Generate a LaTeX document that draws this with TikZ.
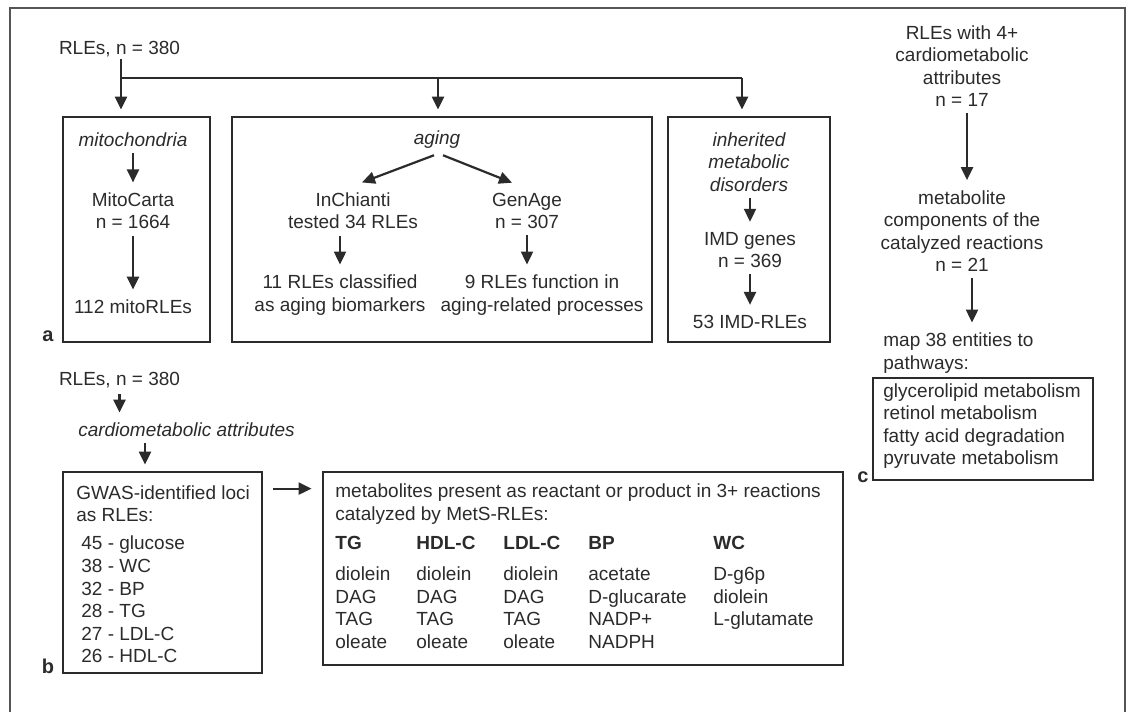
\documentclass[tikz,border=0pt]{standalone}
\usepackage{fontspec}
\setmainfont{Liberation Sans}
\usetikzlibrary{arrows.meta,calc}
\definecolor{ink}{HTML}{2B2B2B}
\definecolor{framec}{HTML}{555555}
\begin{document}
\begin{tikzpicture}[x=0.5pt,y=-0.5pt,
  every node/.style={text=ink, font=\fontsize{9.5}{11.2}\selectfont, inner sep=1pt},
  txt/.style={align=center},
  ltxt/.style={align=left},
  it/.style={font=\fontsize{9.5}{11.2}\selectfont\itshape},
  hd/.style={font=\fontsize{9.5}{11.2}\selectfont\bfseries},
  box/.style={draw=ink, line width=1.4pt, inner sep=0pt},
  arr/.style={draw=ink, line width=1.1pt, -{Triangle[width=6pt,length=6.5pt]}, shorten <=2pt, shorten >=4pt},
  ln/.style={draw=ink, line width=1.1pt},
  lab/.style={font=\fontsize{10}{12}\selectfont\bfseries}
]
\useasboundingbox (0,0) rectangle (1129,712);
\draw[draw=framec, line width=1pt] (10,712) -- (10,8) -- (1125,8) -- (1125,712);

% ---------- a ----------
\node (rleA) at (119.5,49) {RLEs, n = 380};
\coordinate (sp1) at (121,78);
\coordinate (sp2) at (438,78);
\coordinate (sp3) at (742,78);
\node[box, minimum width=73.5pt, minimum height=112.5pt] (boxM) at (136.5,229.5) {};
\node[box, minimum width=210pt, minimum height=112.5pt] (boxA) at (442,229.5) {};
\node[box, minimum width=81pt, minimum height=112.5pt] (boxI) at (749,229.5) {};
\draw[ln] (rleA.south -| sp1) -- (sp1) -- (sp3);
\draw[arr, shorten <=0pt, shorten >=3pt] (sp1) -- (sp1 |- boxM.north);
\draw[arr, shorten <=0pt, shorten >=3pt] (sp2) -- (sp2 |- boxA.north);
\draw[arr, shorten <=0pt, shorten >=3pt] (sp3) -- (sp3 |- boxI.north);

\node[it] (mito) at (133,140) {mitochondria};
\node[txt] (mitoC) at (133,211) {MitoCarta\\n = 1664};
\node (mitoR) at (133,307) {112 mitoRLEs};
\draw[arr] (mito) -- (mitoC);
\draw[arr] (mitoC) -- (mitoR);

\node[it] (aging) at (437,140) {aging};
\node[txt] (inch) at (353,211) {InChianti\\tested 34 RLEs};
\node[txt] (genage) at (527,211) {GenAge\\n = 307};
\node[txt] (inRes) at (340,295) {11 RLEs classified\\as aging biomarkers};
\node[txt] (geRes) at (542,295) {9 RLEs function in\\aging-related processes};
\draw[arr, shorten <=0pt, shorten >=0pt] ($(aging.south)+(-3,4)$) -- ($(inch.north)+(9,-8)$);
\draw[arr, shorten <=0pt, shorten >=0pt] ($(aging.south)+(6,4)$) -- ($(genage.north)+(-15,-8)$);
\draw[arr] (inch.south -| inRes) -- (inRes);
\draw[arr] (genage) -- (genage |- geRes.north);

\node[it, txt] (imdT) at (749,162) {inherited\\metabolic\\disorders};
\node[txt] (imdG) at (750,250) {IMD genes\\n = 369};
\node (imdR) at (750,322) {53 IMD-RLEs};
\draw[arr] (imdT.south -| imdG) -- (imdG);
\draw[arr] (imdG) -- (imdR);

\node[lab] (la) at (48,336) {a};

% ---------- c ----------
\node[txt] (c1) at (962,66) {RLEs with 4+\\cardiometabolic\\attributes\\n = 17};
\node[txt] (c2) at (962,231) {metabolite\\components of the\\catalyzed reactions\\n = 21};
\node[ltxt, anchor=west] (c3) at (881,353) {map 38 entities to\\pathways:};
\node[box, minimum width=110pt, minimum height=51pt] (boxP) at (983,429) {};
\node[ltxt, anchor=west] (pw) at (881,426) {glycerolipid metabolism\\retinol metabolism\\fatty acid degradation\\pyruvate metabolism};
\coordinate (cA) at ($(c1.south)+(5,0)$);
\coordinate (cB) at ($(c2.south)+(10,0)$);
\draw[arr] (cA) -- (cA |- c2.north);
\draw[arr] (cB) -- (cB |- c3.north);
\node[lab] (lc) at (863,477) {c};

% ---------- b ----------
\node (rleB) at (119.5,380) {RLEs, n = 380};
\node[it] (cardio) at (186.5,430) {cardiometabolic attributes};
\draw[arr] (rleB) -- (rleB |- cardio.north);
\node[box, minimum width=99.5pt, minimum height=100.5pt] (boxG) at (162.5,572.5) {};
\coordinate (cardioOut) at ($(cardio.south)+(-41.5,0)$);
\draw[arr, shorten >=3pt] (cardioOut) -- (cardioOut |- boxG.north);
\node[ltxt, anchor=west] (gwT) at (74,503.5) {GWAS-identified loci\\as RLEs:};
\node[ltxt, anchor=west, font=\fontsize{9.5}{11.3}\selectfont] (gwL) at (79,599.5) {45 - glucose\\38 - WC\\32 - BP\\28 - TG\\27 - LDL-C\\26 - HDL-C};
\node[lab] (lb) at (48,666) {b};

\node[box, minimum width=260pt, minimum height=96.5pt] (boxMet) at (583,568.5) {};
\coordinate (gArr) at ($(boxG.north east)+(10,18)$);
\draw[arr, shorten <=0pt, shorten >=5pt] (gArr) -- (gArr -| boxMet.west);
\node[ltxt, anchor=west] (mT) at (333,504) {metabolites present as reactant or product in 3+ reactions\\catalyzed by MetS-RLEs:};
\node[hd, anchor=base west] (hTG) at (333,549.5) {TG};
\node[hd, anchor=base west] (hHDL) at (414,549.5) {HDL-C};
\node[hd, anchor=base west] (hLDL) at (501,549.5) {LDL-C};
\node[hd, anchor=base west] (hBP) at (586,549.5) {BP};
\node[hd, anchor=base west] (hWC) at (711,549.5) {WC};
\node[ltxt, anchor=north west] (colTG) at (333,562.8) {\strut diolein\\DAG\\TAG\\oleate};
\node[ltxt, anchor=north west] (colHDL) at (414,562.8) {\strut diolein\\DAG\\TAG\\oleate};
\node[ltxt, anchor=north west] (colLDL) at (501,562.8) {\strut diolein\\DAG\\TAG\\oleate};
\node[ltxt, anchor=north west] (colBP) at (586,562.8) {\strut acetate\\D-glucarate\\NADP+\\NADPH};
\node[ltxt, anchor=north west] (colWC) at (711,562.8) {\strut D-g6p\\diolein\\L-glutamate};
\end{tikzpicture}
\end{document}
